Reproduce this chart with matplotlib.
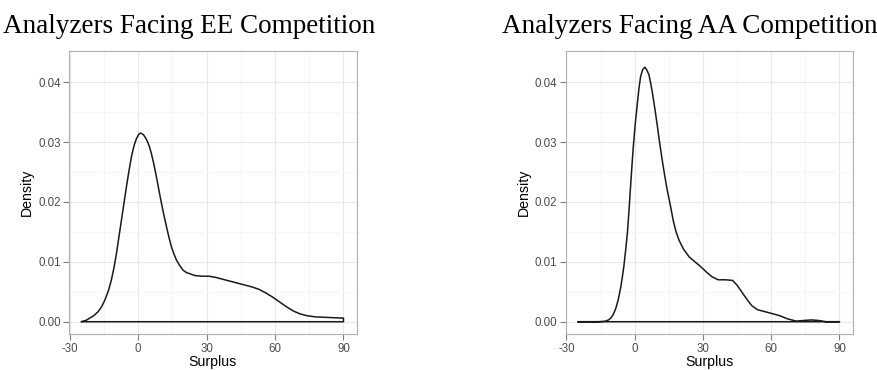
import numpy as np
import matplotlib.pyplot as plt

# density curves of analyzer surplus (read at these surplus values)
ee_surplus = [-25, -23, -21.2, -19.5, -17.5, -16, -14.6, -13, -11.7, -10.5, -9.5,
              -8.4, -7.3, -6.2, -5.1, -4, -2.9, -1.8, -0.7, 0.3, 1.2, 2.4, 3.7,
              4.8, 5.8, 6.9, 8, 9.1, 10.2, 11.3, 12.4, 13.5, 14.6, 15.7, 16.8,
              18.2, 19.7, 21.2, 22.7, 25, 28, 31, 34, 38, 42, 46, 50, 53, 56, 59,
              62, 65, 68, 71, 74, 78, 84, 90]
ee_density = [0, 0.0002, 0.0006, 0.0010, 0.0017, 0.0025, 0.0036, 0.0052, 0.0070,
              0.0092, 0.0114, 0.0142, 0.0170, 0.0198, 0.0226, 0.0252, 0.0276,
              0.0294, 0.0306, 0.0313, 0.0315, 0.0312, 0.0304, 0.0294, 0.0281,
              0.0263, 0.0242, 0.0220, 0.0198, 0.0178, 0.0159, 0.0141, 0.0125,
              0.0113, 0.0103, 0.0094, 0.0086, 0.0082, 0.0080, 0.0077, 0.0076,
              0.0076, 0.0074, 0.0070, 0.0066, 0.0062, 0.0058, 0.0054, 0.0048,
              0.0041, 0.0033, 0.0025, 0.0018, 0.0013, 0.0010, 0.0008, 0.0007,
              0.0006]

aa_surplus = [-25, -16, -14, -12.7, -11.5, -10.5, -9.4, -8.3, -7.2, -6.1, -5.4,
              -4.7, -4, -3.2, -2.5, -1.8, -1.2, -0.6, 0.3, 1.2, 1.9, 2.6, 3.5,
              4.5, 5.4, 6.3, 7, 7.8, 8.9, 10, 11, 12.1, 13.2, 14.3, 15.8, 17,
              18.2, 19.5, 21.5, 24, 26.5, 29, 31.5, 34, 36.7, 40, 43, 45, 47, 49,
              51.4, 54, 57, 60, 63.8, 67, 71, 74, 77.7, 81, 84, 90]
aa_density = [0, 0, 0.00005, 0.0001, 0.0003, 0.0006, 0.0012, 0.0022, 0.0037,
              0.0058, 0.0075, 0.0094, 0.0118, 0.0148, 0.0185, 0.0226, 0.0260,
              0.0292, 0.0332, 0.0365, 0.0390, 0.0409, 0.0421, 0.0425, 0.0420,
              0.0412, 0.0399, 0.0382, 0.0355, 0.0326, 0.0298, 0.0270, 0.0244,
              0.0220, 0.0192, 0.0168, 0.0150, 0.0136, 0.0121, 0.0108, 0.0100,
              0.0092, 0.0083, 0.0075, 0.0070, 0.0070, 0.0069, 0.0061, 0.0050,
              0.0039, 0.0027, 0.0020, 0.0017, 0.0014, 0.0010, 0.0005, 0.0001,
              0.0002, 0.0003, 0.0002, 0, 0]

titles = ["Analyzers Facing EE Competition", "Analyzers Facing AA Competition"]
x_ticks = [-30, 0, 30, 60, 90]
y_ticks = [0.00, 0.01, 0.02, 0.03, 0.04]

W, H = 877, 370
fig = plt.figure(figsize=(W / 100, H / 100), dpi=100)
plt.rcParams['font.family'] = ['Liberation Sans', 'DejaVu Sans']


def px_axes(x0, x1, y0, y1):
    return fig.add_axes([x0 / W, 1 - y1 / H, (x1 - x0) / W, (y1 - y0) / H])


panels = [
    (px_axes(69, 356.7, 51, 334.3), ee_surplus, ee_density, 3),
    (px_axes(565.7, 852.7, 51, 334.3), aa_surplus, aa_density, 502),
]

for i, (ax, xs, ys, title_x) in enumerate(panels):
    ax.set_xlim(-30.3, 95.8)
    ax.set_ylim(-0.0021, 0.0452)
    ax.set_xticks(x_ticks)
    ax.set_xticklabels([str(t) for t in x_ticks])
    ax.set_yticks(y_ticks)
    ax.set_yticklabels(["%.2f" % t for t in y_ticks])
    ax.set_xticks([-15, 15, 45, 75], minor=True)
    ax.set_yticks([0.005, 0.015, 0.025, 0.035], minor=True)
    ax.grid(which="major", color="#e8e8e8", lw=0.8)
    ax.grid(which="minor", color="#f6f6f6", lw=0.8)
    ax.set_axisbelow(True)
    ax.tick_params(which="minor", length=0)
    ax.tick_params(which="major", length=4, width=0.8, color="#7f7f7f",
                   labelsize=8.3, labelcolor="#4d4d4d", pad=2)
    for s in ax.spines.values():
        s.set_color("#b0b0b0")
        s.set_linewidth(0.8)

    # closed outline like a density polygon: curve, then down to the baseline
    px = list(xs) + [xs[-1]]
    py = list(ys) + [0]
    ax.fill(px, py, facecolor="none", edgecolor="#1a1a1a", lw=1.1,
            joinstyle="round")

    ax.set_xlabel("Surplus", fontsize=10.2, labelpad=0)
    ax.set_ylabel("Density", fontsize=10.2, labelpad=3)

    fig.text(title_x / W, 1 - 33 / H, titles[i], family="Liberation Serif",
             fontsize=19.5, ha="left", va="baseline")

fig.savefig("out.png", dpi=100)
